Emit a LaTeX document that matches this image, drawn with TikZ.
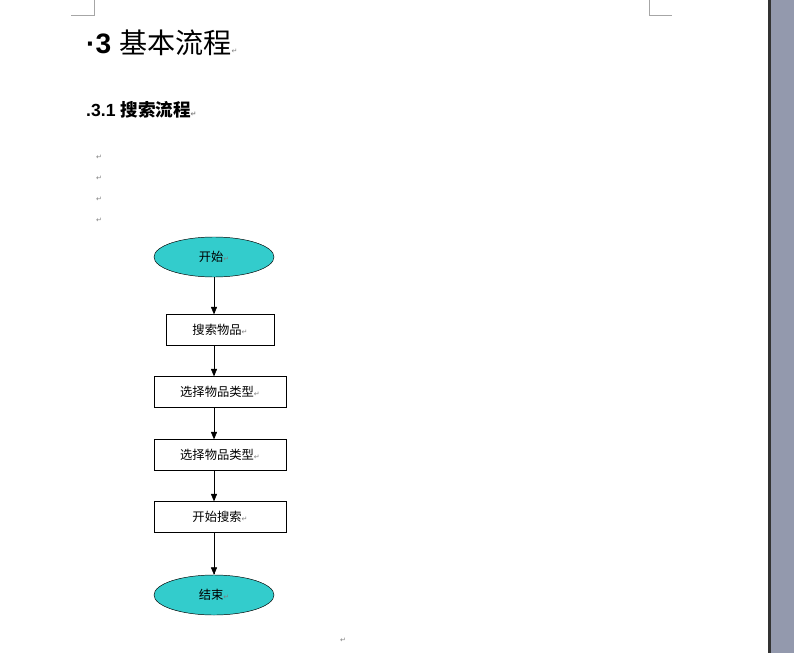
\documentclass[tikz,border=0pt]{standalone}
\usepackage{fontspec}
\setmainfont{Liberation Sans}
\newfontfamily\cjk{Noto Sans CJK SC}
\newfontfamily\symf{DejaVu Sans}
\usetikzlibrary{positioning,shapes,arrows}
\definecolor{turq}{HTML}{33CCCC}
\definecolor{pagebar}{HTML}{9399AD}
\newcommand{\ret}{{\symf\fontsize{6}{6}\selectfont\color{gray}↵}}
\begin{document}
\begin{tikzpicture}[x=0.03cm,y=-0.03cm,
terminal/.style={draw, ellipse, fill=turq, minimum width=120*0.03cm, minimum height=40*0.03cm, inner sep=0pt, font=\cjk\fontsize{10.5}{10.5}\selectfont},
single/.style={draw, rectangle, minimum height=31*0.03cm, inner sep=0pt, font=\cjk\fontsize{10.5}{10.5}\selectfont},
retmark/.style={inner sep=0pt},
flow/.style={-triangle 45}
]
\useasboundingbox (0,0) rectangle (794,653);
\fill[white] (0,0) rectangle (794,653);
%% page edge
\fill[black!80] (768,0) rectangle (771,653);
\fill[pagebar] (771,0) rectangle (794,653);
%% corner marks
\draw[gray!70] (94,0) -- (94,15) -- (71,15);
\draw[gray!70] (649,0) -- (649,15) -- (672,15);
%% headings
\node[anchor=west,inner sep=0pt] (title) at (86,43) {\fontsize{24}{24}\selectfont\bfseries ·3 \cjk\mdseries 基本流程\ret};
\node[anchor=west,inner sep=0pt] (subtitle) at (86,110) {\fontsize{15}{15}\selectfont\bfseries .3.1 \cjk 搜索流程\ret};
\foreach \y [count=\i] in {157,178,199,220}
  \node[retmark] (r\i) at (99,\y) {\ret};
%% beginning of flow
\node[terminal] (start) at (214,257) {开始\ret};
\node[single,minimum width=108*0.03cm] (search) at (220,330) {搜索物品\ret};
\node[single,minimum width=132*0.03cm] (typeA) at (220,392) {选择物品类型\ret};
\node[single,minimum width=132*0.03cm] (typeB) at (220,455) {选择物品类型\ret};
\node[single,minimum width=132*0.03cm] (go) at (220,517) {开始搜索\ret};
\node[terminal] (stop) at (214,595) {结束\ret};
\draw [flow] (start.south) -- (start.south |- search.north);
\draw [flow] (start.south |- search.south) -- (start.south |- typeA.north);
\draw [flow] (start.south |- typeA.south) -- (start.south |- typeB.north);
\draw [flow] (start.south |- typeB.south) -- (start.south |- go.north);
\draw [flow] (start.south |- go.south) -- (stop.north);
%% end of flow
\node[retmark] (rlast) at (343,640) {\ret};
\end{tikzpicture}
\end{document}
